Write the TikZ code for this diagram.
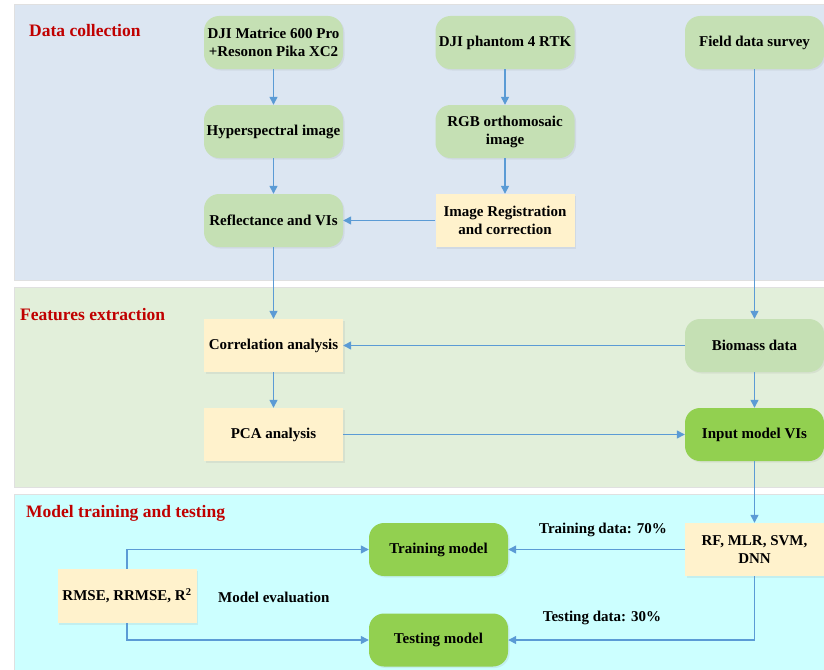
\documentclass[tikz,border=0pt]{standalone}
\usepackage{fontspec}
\setmainfont{Liberation Serif}
\usetikzlibrary{arrows.meta,shadows}
\definecolor{panelA}{HTML}{DCE6F2}
\definecolor{panelB}{HTML}{E2EFDA}
\definecolor{panelC}{HTML}{CCFFFF}
\definecolor{lgreen}{HTML}{C5E0B4}
\definecolor{dgreen}{HTML}{92D050}
\definecolor{lyellow}{HTML}{FFF2CC}
\definecolor{arrowblue}{HTML}{5B9BD5}
\definecolor{titlered}{HTML}{C00000}
\tikzset{
  panel/.style={draw=black!12, line width=1pt},
  boxbase/.style={minimum width=139pt, minimum height=53pt, align=center, inner sep=2pt,
    font=\fontsize{15}{18}\selectfont\bfseries,
    drop shadow={opacity=0.12, shadow xshift=1.5pt, shadow yshift=-1.5pt}},
  gbox/.style={boxbase, rounded corners=15pt, fill=lgreen},
  dbox/.style={boxbase, rounded corners=15pt, fill=dgreen},
  ybox/.style={boxbase, fill=lyellow},
  ptitle/.style={anchor=west, inner sep=0pt, text=titlered, font=\fontsize{17.5}{20}\selectfont\bfseries},
  lbl/.style={inner sep=0pt, font=\fontsize{15}{18}\selectfont\bfseries},
  arr/.style={draw=arrowblue, line width=1.3pt, -{Triangle[length=8pt,width=8pt]}}
}
\begin{document}
\begin{tikzpicture}[x=1pt,y=-1pt]
\useasboundingbox (0,0) rectangle (824,669);
\clip (0,0) rectangle (824,669);
\fill[white] (0,0) rectangle (824,669);
% panels
\filldraw[panel, fill=panelA] (14,5) rectangle (840,280);
\filldraw[panel, fill=panelB] (14,287) rectangle (840,487);
\filldraw[panel, fill=panelC] (14,494) rectangle (840,690);
% titles
\node[ptitle] (t1) at (29,31) {Data collection};
\node[ptitle] (t2) at (20,315) {Features extraction};
\node[ptitle] (t3) at (26,513) {Model training and testing};
% nodes
\node[gbox] (m600) at (273.5,42.5) {DJI Matrice 600 Pro\\+Resonon Pika XC2};
\node[gbox] (hyp) at (273.5,131.5) {Hyperspectral image};
\node[gbox] (refl) at (273.5,220.5) {Reflectance and VIs};
\node[gbox] (p4) at (505,42.5) {DJI phantom 4 RTK};
\node[gbox] (rgb) at (505,131.5) {RGB orthomosaic\\image};
\node[ybox] (reg) at (505,220.5) {Image Registration\\and correction};
\node[gbox] (field) at (754.5,42.5) {Field data survey};
\node[ybox] (corr) at (273.5,345.5) {Correlation analysis};
\node[ybox] (pca) at (273.5,434.5) {PCA analysis};
\node[gbox] (bio) at (754.5,345.5) {Biomass data};
\node[dbox] (inp) at (754.5,434.5) {Input model VIs};
\node[ybox] (rf) at (754.5,549.5) {RF, MLR, SVM,\\DNN};
\node[dbox] (train) at (438.5,549.5) {Training model};
\node[dbox] (test) at (438.5,640) {Testing model};
\node[ybox, minimum height=54pt] (rmse) at (127,596) {RMSE, RRMSE, R\textsuperscript{2}};
% labels
\node[lbl, anchor=west] (meval) at (218,597) {Model evaluation};
\node[lbl] (trd) at (603,530) {Training data: 70\%};
\node[lbl] (ted) at (602,618) {Testing data: 30\%};
% connectors
\draw[arr] (m600) -- (hyp);
\draw[arr] (hyp) -- (refl);
\draw[arr] (p4) -- (rgb);
\draw[arr] (rgb) -- (reg);
\draw[arr] (reg) -- (refl);
\draw[arr] (refl) -- (corr);
\draw[arr] (field) -- (bio);
\draw[arr] (bio) -- (corr);
\draw[arr] (bio) -- (inp);
\draw[arr] (corr) -- (pca);
\draw[arr] (pca) -- (inp);
\draw[arr] (inp) -- (rf);
\draw[arr] (rf) -- (train);
\draw[arr] (rf.south) |- (test.east);
\draw[arr] (rmse.north) |- (train.west);
\draw[arr] (rmse.south) |- (test.west);
\end{tikzpicture}
\end{document}
